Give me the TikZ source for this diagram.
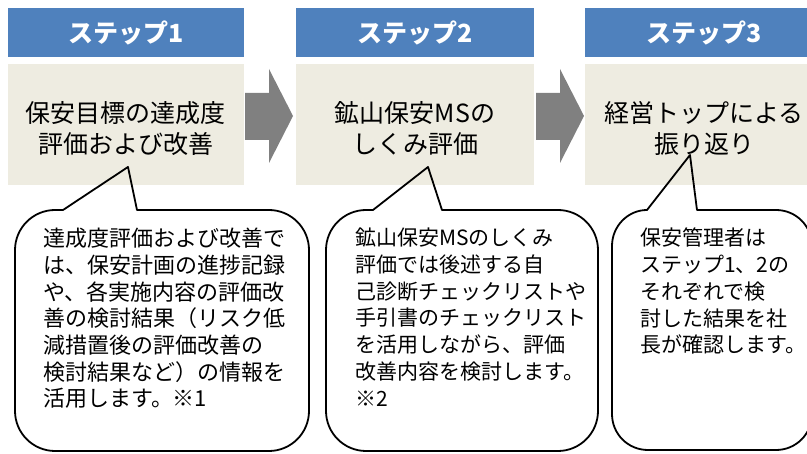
\documentclass[tikz,border=0pt]{standalone}
\usepackage{fontspec}
\setmainfont{Noto Sans CJK JP}
\definecolor{hdrblue}{HTML}{4F81BD}
\definecolor{boxbeige}{HTML}{EEECE1}
\definecolor{arrgray}{HTML}{808080}
\begin{document}
\begin{tikzpicture}[x=1pt,y=-1pt,
  hdr/.style={fill=hdrblue, draw=none, minimum height=49pt, inner sep=0pt, text=white,
    font=\fontsize{25}{28}\selectfont\bfseries},
  stepbox/.style={fill=boxbeige, draw=none, minimum height=121pt, inner sep=0pt},
  steptext/.style={align=center, inner sep=0pt, font=\fontsize{25}{31}\selectfont},
  flowarrow/.style={fill=arrgray, draw=none},
  bubble/.style={draw=black, line width=1.8pt, line join=round},
  bubbletext/.style={anchor=north west, inner sep=0pt, align=left, text=black}]
\useasboundingbox (0,0) rectangle (807,454);
\clip (0,0) rectangle (807,454);

% headers
\node[hdr, minimum width=236pt] (h1) at (126,32.5) {ステップ1};
\node[hdr, minimum width=238pt] (h2) at (415,32.5) {ステップ2};
\node[hdr, minimum width=238pt] (h3) at (704,32.5) {ステップ3};

% step boxes
\node[stepbox, minimum width=236pt] (b1) at (126,124.5) {};
\node[stepbox, minimum width=238pt] (b2) at (415,124.5) {};
\node[stepbox, minimum width=238pt] (b3) at (704,124.5) {};
\node[steptext] (b1t) at ([yshift=-4pt]b1.center) {保安目標の達成度\\評価および改善};
\node[steptext] (b2t) at ([yshift=-4pt]b2.center) {鉱山保安MSの\\しくみ評価};
\node[steptext] (b3t) at ([yshift=-4pt]b3.center) {経営トップによる\\振り返り};

% block arrows
\fill[flowarrow] (245,93) -- (269,93) -- (269,69) -- (293,116) -- (269,163) -- (269,140) -- (245,140) -- cycle;
\fill[flowarrow] (536,93) -- (560,93) -- (560,69) -- (584,116) -- (560,163) -- (560,140) -- (536,140) -- cycle;

% callout bubbles
\draw[bubble] (63,210) -- (128,167) -- (137,210) -- (269,210)
  .. controls (291,210) and (309,228) .. (309,250) -- (309,411)
  .. controls (309,433) and (291,451) .. (269,451) -- (55,451)
  .. controls (33,451) and (15,433) .. (15,411) -- (15,250)
  .. controls (15,228) and (33,210) .. (55,210) -- cycle;
\draw[bubble] (373,210) -- (428,167) -- (442,210) -- (558,210)
  .. controls (580,210) and (598,228) .. (598,250) -- (598,411)
  .. controls (598,433) and (580,451) .. (558,451) -- (366,451)
  .. controls (344,451) and (326,433) .. (326,411) -- (326,250)
  .. controls (326,228) and (344,210) .. (366,210) -- cycle;
\draw[bubble] (647,210) -- (690,155) -- (697,210) -- (776,210)
  .. controls (796,210) and (812,226) .. (812,246) -- (812,414)
  .. controls (812,434) and (796,450) .. (776,450) -- (648,450)
  .. controls (628,450) and (612,434) .. (612,414) -- (612,246)
  .. controls (612,226) and (628,210) .. (647,210) -- cycle;

% bubble texts
\node[bubbletext, font=\fontsize{22}{26.7}\selectfont] (t1) at (43,228)
  {達成度評価および改善で\\は、保安計画の進捗記録\\や、各実施内容の評価改\\善の検討結果（リスク低\\減措置後の評価改善の\\検討結果など）の情報を\\活用します。※1};
\node[bubbletext, font=\fontsize{21}{26.7}\selectfont] (t2) at (355,228)
  {鉱山保安MSのしくみ\\評価では後述する自\\己診断チェックリストや\\手引書のチェックリスト\\を活用しながら、評価\\改善内容を検討します。\\※2};
\node[bubbletext, font=\fontsize{21}{26.7}\selectfont] (t3) at (640,228)
  {保安管理者は\\ステップ1、2の\\それぞれで検\\討した結果を社\\長が確認します。};
\end{tikzpicture}
\end{document}
